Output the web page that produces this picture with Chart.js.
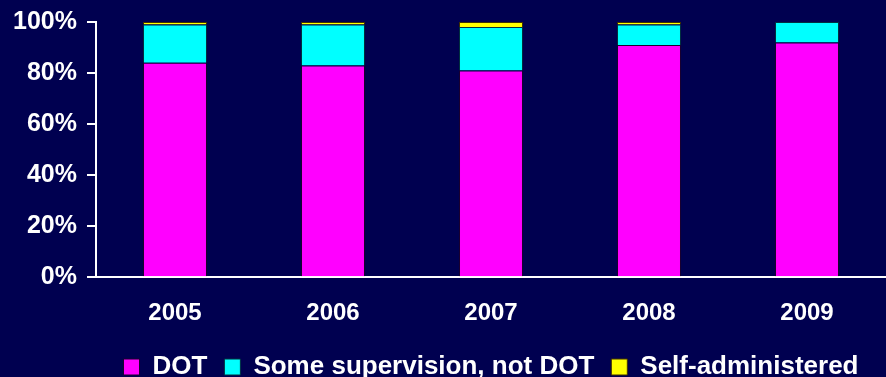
<!DOCTYPE html>
<html>
<head>
<meta charset="utf-8">
<script src="https://cdn.jsdelivr.net/npm/chart.js@4/dist/chart.umd.min.js"></script>
<style>
  html, body { margin: 0; padding: 0; background: #000050; }
  #wrap { width: 886px; height: 377px; position: relative; }
</style>
</head>
<body>
<div id="wrap"><canvas id="chart" width="886" height="377"></canvas></div>
<script>
// Treatment supervision by year (% of cases)
const years = ['2005', '2006', '2007', '2008', '2009'];
const dot = [84, 83, 81, 91, 92];
const someSupervision = [15, 16, 17, 8, 8];
const selfAdministered = [1, 1, 2, 1, 0];
const yTicks = [0, 20, 40, 60, 80, 100];

const FONT = '"Liberation Sans", Arial, sans-serif';

const background = {
  id: 'background',
  beforeDraw(chart) {
    const ctx = chart.ctx;
    ctx.save();
    ctx.fillStyle = '#000050';
    ctx.fillRect(0, 0, chart.width, chart.height);
    ctx.restore();
  }
};

new Chart(document.getElementById('chart'), {
  type: 'bar',
  data: {
    labels: years,
    datasets: [
      { label: 'DOT', data: dot, backgroundColor: '#FF00FF', borderColor: '#1a0030', borderWidth: 1 },
      { label: 'Some supervision, not DOT', data: someSupervision, backgroundColor: '#00FFFF', borderColor: '#003040', borderWidth: 1 },
      { label: 'Self-administered', data: selfAdministered, backgroundColor: '#FFFF00', borderColor: '#403000', borderWidth: 1 }
    ]
  },
  options: {
    responsive: false,
    animation: false,
    layout: { padding: { top: 22, right: 0, left: 0, bottom: -13 } },
    datasets: { bar: { categoryPercentage: 0.81, barPercentage: 0.5 } },
    scales: {
      x: {
        stacked: true,
        grid: { display: false, drawTicks: false },
        border: { display: true, color: '#FFFFFF', width: 2 },
        afterFit(scale) { scale.height = scale.height - 13; },
        ticks: { color: '#FFFFFF', font: { family: FONT, size: 24, weight: 'bold' }, padding: 22 }
      },
      y: {
        stacked: true,
        min: 0,
        max: 100,
        afterBuildTicks(scale) { scale.ticks = yTicks.map(v => ({ value: v })); },
        afterFit(scale) { scale.width = 96; },
        grid: { drawOnChartArea: false, drawTicks: true, tickLength: 9, color: '#FFFFFF', lineWidth: 2 },
        border: { display: true, color: '#FFFFFF', width: 2 },
        ticks: {
          color: '#FFFFFF',
          padding: 10,
          font: { family: FONT, size: 25, weight: 'bold', lineHeight: 0.8 },
          callback: v => v + '%'
        }
      }
    },
    plugins: {
      legend: {
        position: 'bottom',
        fullSize: false,
        labels: {
          color: '#FFFFFF',
          font: { family: FONT, size: 26, weight: 'bold' },
          boxWidth: 16,
          boxHeight: 16,
          padding: 17
        }
      },
      tooltip: { enabled: false }
    }
  },
  plugins: [background]
});
</script>
</body>
</html>
